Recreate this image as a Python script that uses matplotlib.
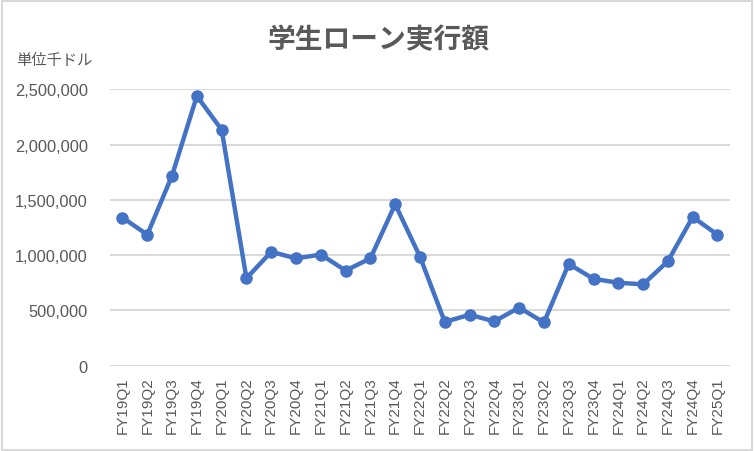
import matplotlib
matplotlib.use("Agg")
import matplotlib.pyplot as plt
from matplotlib.ticker import FuncFormatter
from matplotlib.patches import Rectangle

# データ(単位:千ドル)
quarters = ["FY19Q1", "FY19Q2", "FY19Q3", "FY19Q4",
            "FY20Q1", "FY20Q2", "FY20Q3", "FY20Q4",
            "FY21Q1", "FY21Q2", "FY21Q3", "FY21Q4",
            "FY22Q1", "FY22Q2", "FY22Q3", "FY22Q4",
            "FY23Q1", "FY23Q2", "FY23Q3", "FY23Q4",
            "FY24Q1", "FY24Q2", "FY24Q3", "FY24Q4",
            "FY25Q1"]
loans = [1340000, 1185000, 1720000, 2440000,
         2135000, 790000, 1030000, 970000,
         1005000, 860000, 970000, 1460000,
         985000, 395000, 460000, 400000,
         525000, 390000, 920000, 785000,
         750000, 735000, 945000, 1345000,
         1185000]
yticks = [0, 500000, 1000000, 1500000, 2000000, 2500000]

plt.rcParams['font.family'] = ['Liberation Sans', 'Noto Sans CJK JP', 'DejaVu Sans']
gray = "#595959"

fig = plt.figure(figsize=(7.54, 4.52), dpi=100)
ax = fig.add_axes([0.146, 0.189, 0.822, 0.611])

x = list(range(len(quarters)))
ax.plot(x, loans, color="#4472C4", linewidth=3.2, marker="o", markersize=8,
        solid_capstyle="round", zorder=3)

ax.set_xlim(-0.5, len(quarters) - 0.5)
ax.set_ylim(0, 2500000)
ax.set_yticks(yticks)
ax.yaxis.set_major_formatter(FuncFormatter(lambda v, p: f"{int(v):,}"))
ax.set_xticks(x)
ax.set_xticklabels(quarters, rotation=90)
ax.tick_params(axis="both", length=0, colors=gray, labelsize=11)
ax.tick_params(axis="y", pad=16, labelsize=11.8)
ax.tick_params(axis="x", pad=8)
ax.grid(axis="y", color="#D9D9D9", linewidth=1.4)
ax.set_axisbelow(True)
for s in ax.spines.values():
    s.set_visible(False)

# タイトルと単位
fig.text(0.502, 0.912, "学生ローン実行額", ha="center", va="center",
         fontsize=20, fontweight="bold", color=gray,
         family=['Noto Sans CJK JP', 'DejaVu Sans'])
fig.text(0.021, 0.867, "単位千ドル", ha="left", va="center",
         fontsize=11, color=gray, family=['Noto Sans CJK JP', 'DejaVu Sans'])

# グラフエリアの枠
fig.patches.append(Rectangle((0.002, 0.003), 0.995, 0.993, transform=fig.transFigure,
                             fill=False, edgecolor="#D9D9D9", linewidth=1.5))

fig.savefig("out.png", dpi=100)
